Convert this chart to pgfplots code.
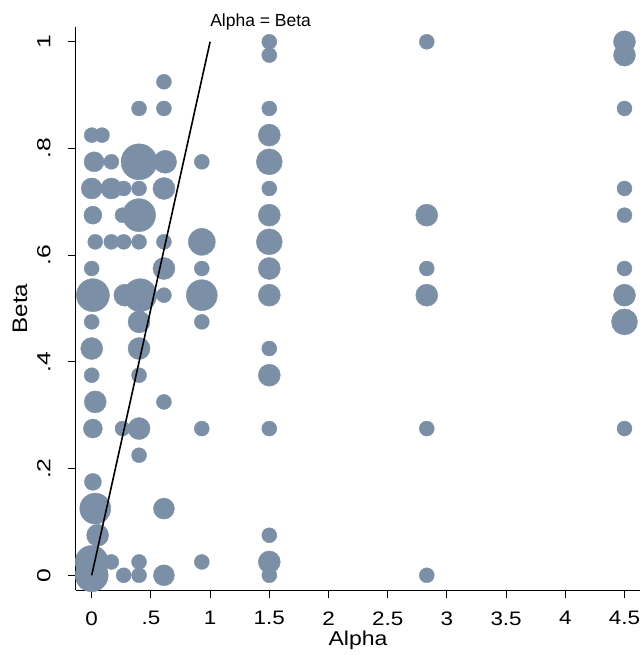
\documentclass[border=0pt]{standalone}
\usepackage{fontspec}
\setmainfont{Liberation Sans}
\newfontfamily\hfont{Liberation Sans}[FakeStretch=1.15]
\newfontfamily\yfont{Liberation Sans}[FakeStretch=1.3]
\usepackage{pgfplots}
\usepackage{pgfplotstable}
\pgfplotsset{compat=1.18}
\definecolor{bubble}{RGB}{123,144,167}
\pgfplotstableread{
x y d
0.00 0.825 15
0.087 0.825 15
0.02 0.775 20
0.166 0.775 15
0.40 0.775 36
0.62 0.775 23
0.93 0.775 15
1.50 0.775 26
0.00 0.725 21
0.166 0.725 21
0.27 0.725 15
0.40 0.725 15
0.61 0.725 22
1.50 0.725 15
0.01 0.675 18
0.26 0.675 15
0.40 0.675 33
1.50 0.675 22
0.03 0.625 15
0.166 0.625 15
0.27 0.625 15
0.40 0.625 15
0.61 0.625 15
0.93 0.625 27
1.50 0.625 26
0.00 0.575 15
0.61 0.575 22
0.93 0.575 15
1.50 0.575 22
0.01 0.525 33
0.28 0.525 22
0.41 0.525 33
0.61 0.525 15
0.93 0.525 31
1.50 0.525 22
0.00 0.475 15
0.40 0.475 22
0.93 0.475 15
0.00 0.425 22
0.40 0.425 22
1.50 0.425 15
0.00 0.375 15
0.40 0.375 15
1.50 0.375 22
0.03 0.325 22
0.61 0.325 15
0.01 0.275 19
0.26 0.275 15
0.40 0.275 22
0.93 0.275 15
1.50 0.275 15
0.40 0.225 15
0.01 0.175 17
0.03 0.125 31
0.61 0.125 21
0.05 0.075 22
1.50 0.075 15
0.00 0.025 33
0.166 0.025 15
0.40 0.025 15
0.93 0.025 15
1.50 0.025 22
0.00 0.000 33
0.27 0.000 15
0.40 0.000 15
0.61 0.000 21
1.50 0.000 15
0.40 0.875 15
0.61 0.875 15
1.50 0.875 15
0.61 0.925 15
1.50 1.000 15
1.50 0.975 15
1.50 0.825 22
2.83 1.000 15
2.83 0.675 22
2.83 0.575 15
2.83 0.525 22
2.83 0.275 15
2.83 0.000 15
4.50 1.000 22
4.50 0.975 22
4.50 0.875 15
4.50 0.725 15
4.50 0.675 15
4.50 0.575 15
4.50 0.525 22
4.50 0.475 26
4.50 0.275 15
}\bubbles
\begin{document}
\begin{tikzpicture}
\begin{axis}[
  scale only axis, width=564pt, height=563pt,
  xmin=-0.1326, xmax=4.631, ymin=-0.0276, ymax=1.0277,
  axis x line*=bottom, axis y line*=left,
  axis line style={-, line width=1pt, black},
  xtick={0,0.5,1,1.5,2,2.5,3,3.5,4,4.5},
  xticklabels={0,.5,1,1.5,2,2.5,3,3.5,4,4.5},
  ytick={0,0.2,0.4,0.6,0.8,1},
  yticklabels={0,.2,.4,.6,.8,1},
  tick align=outside, major tick length=8pt,
  tick style={line width=1pt, black},
  xticklabel style={font=\hfont\fontsize{19.5}{19.5}\selectfont},
  xticklabel shift=10pt,
  yticklabel style={font=\yfont\fontsize{19}{19}\selectfont, rotate=90, anchor=south},
  yticklabel shift=14pt,
  xlabel={Alpha}, ylabel={Beta},
  xlabel style={font=\hfont\fontsize{20}{20}\selectfont,
    at={(axis description cs:0.5,-0.0977)}, anchor=base},
  ylabel style={font=\hfont\fontsize{21}{21}\selectfont,
    at={(axis description cs:-0.0993,0.5)}, rotate=0, anchor=center},
  clip=false, clip marker paths=true,
]
\addplot[scatter, only marks, mark=*,
  point meta=explicit,
  scatter/use mapped color={draw=bubble, fill=bubble},
  visualization depends on={\thisrow{d}/2 \as \rad},
  scatter/@pre marker code/.append style={/tikz/mark size=\rad pt}]
  table[x=x, y=y, meta=d] {\bubbles};
\addplot[black, line width=1.6pt] coordinates {(0,0) (1,1)};
\node[anchor=base west, font=\fontsize{17.5}{17.5}\selectfont, yshift=15pt, inner sep=0pt] at (axis cs:1,1) {Alpha = Beta};
\end{axis}
\pgfresetboundingbox
\path (-76pt,-65pt) rectangle (568pt,590pt);
\end{tikzpicture}
\end{document}
